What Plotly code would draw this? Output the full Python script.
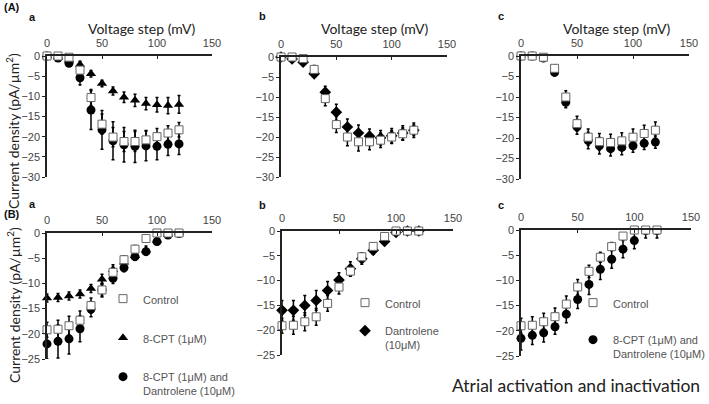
import plotly.graph_objects as go

W, H = 709, 404
volt = [0, 10, 20, 30, 40, 50, 60, 70, 80, 90, 100, 110, 120]

# ---- (A) activation ----
Aa_ctrl = [0, 0, -0.3, -3.5, -10.3, -16.9, -20.1, -21.2, -21.2, -20.8, -20.0, -19.1, -18.3]
Aa_ctrl_err = [0, 0.3, 0.5, 1.0, 2.0, 2.5, 2.4, 2.5, 2.5, 2.3, 2.0, 1.8, 1.8]
Aa_cpt = [0, -0.3, -1.0, -2.1, -4.4, -6.8, -8.7, -10.2, -11.0, -11.8, -12.1, -12.3, -12.0]
Aa_cpt_err = [0, 0.3, 0.7, 0.8, 0.8, 0.8, 1.0, 1.3, 1.5, 1.5, 1.8, 2.0, 2.2]
Aa_both = [0, -0.5, -1.8, -5.4, -13.4, -18.3, -21.0, -22.0, -22.4, -22.3, -22.4, -21.9, -21.8]
Aa_both_err = [0, 0.5, 0.7, 1.8, 4.8, 4.8, 4.7, 4.3, 4.0, 3.7, 3.3, 2.8, 2.6]

Ab_ctrl = [0, 0, -0.4, -3.1, -10.4, -16.9, -20.0, -21.2, -21.2, -20.8, -20.0, -19.2, -18.3]
Ab_ctrl_err = [0, 0.2, 0.4, 1.0, 1.8, 2.0, 2.2, 2.3, 2.0, 1.8, 1.6, 1.5, 1.3]
Ab_dan = [0, -0.5, -1.3, -4.2, -8.8, -13.8, -17.5, -19.0, -19.8, -20.2, -19.7, -19.0, -18.3]
Ab_dan_err = [0, 0.3, 0.5, 0.7, 1.5, 2.0, 2.0, 2.0, 1.8, 1.8, 1.8, 1.8, 1.8]

Ac_ctrl = [0, 0, -0.3, -3.0, -10.0, -16.5, -19.8, -20.9, -21.1, -20.7, -19.8, -18.9, -18.1]
Ac_ctrl_err = [0, 0.2, 0.4, 0.8, 1.5, 1.8, 2.0, 2.0, 2.0, 2.0, 2.0, 2.0, 2.0]
Ac_both = [0, 0, -0.5, -4.0, -11.3, -17.3, -20.6, -21.9, -22.6, -22.3, -21.9, -21.3, -21.0]
Ac_both_err = [0, 0.2, 0.4, 0.8, 1.3, 1.8, 2.0, 2.0, 1.8, 1.8, 1.6, 1.5, 1.5]

# ---- (B) inactivation ----
Ba_ctrl = [-19.2, -19.1, -18.4, -17.3, -14.4, -11.3, -7.8, -5.3, -3.2, -1.1, 0, 0, 0]
Ba_ctrl_err = [1.5, 1.8, 1.9, 1.8, 1.5, 1.2, 1.0, 0.8, 0.7, 0.5, 0.3, 0, 0]
Ba_cpt = [-12.9, -12.8, -12.5, -12.1, -11.0, -9.2, -7.3, -5.8, -4.5, -3.4, -1.5, -0.3, 0]
Ba_cpt_err = [0.8, 0.8, 0.8, 0.8, 0.8, 1.0, 1.0, 0.9, 0.8, 0.8, 0.8, 0.4, 0.2]
Ba_both = [-22.0, -21.5, -21.0, -19.0, -15.1, -11.3, -9.0, -6.9, -4.7, -3.7, -1.7, -0.4, -0.1]
Ba_both_err = [3.0, 3.3, 3.0, 2.6, 1.5, 1.4, 1.0, 0.8, 0.7, 0.6, 0.5, 0.3, 0.2]

Bb_ctrl = [-19.1, -19.0, -18.3, -17.3, -14.6, -11.3, -8.1, -5.2, -3.1, -1.1, 0, 0, 0]
Bb_ctrl_err = [1.5, 1.8, 1.8, 1.7, 1.6, 1.4, 1.0, 0.8, 0.6, 0.5, 0.2, 0, 0]
Bb_dan = [-16.0, -16.0, -15.0, -14.0, -12.0, -9.9, -7.6, -5.6, -3.9, -2.1, -0.3, 0, 0]
Bb_dan_err = [2.0, 2.0, 2.0, 2.0, 1.8, 1.5, 1.4, 1.1, 0.8, 0.5, 0.3, 0, 0]

Bc_ctrl = [-19.0, -18.9, -18.2, -17.2, -14.7, -11.3, -8.2, -5.4, -3.3, -1.2, 0, 0, 0]
Bc_ctrl_err = [1.5, 1.7, 1.7, 1.7, 1.6, 1.5, 1.2, 1.0, 0.8, 0.6, 0.3, 0, 0]
Bc_both = [-21.5, -20.9, -20.4, -19.2, -16.7, -13.8, -10.8, -7.8, -5.8, -3.8, -2.1, -0.1, -0.1]
Bc_both_err = [2.3, 1.8, 1.8, 1.5, 1.7, 1.8, 2.0, 2.0, 1.8, 1.7, 1.6, 1.5, 1.5]

x_ticks = [0, 50, 100, 150]
yA_ticks = [0, -5, -10, -15, -20, -25, -30]
yB_ticks = [0, -5, -10, -15, -20, -25]

name_ctrl = "Control"
name_cpt = "8-CPT (1μM)"
name_both = "8-CPT (1μM) and<br>Dantrolene (10μM)"
name_dan = "Dantrolene<br>(10μM)"

fig = go.Figure()

STY = {
    "ctrl": dict(symbol="square", size=8, color="white", line=dict(color="#666", width=1)),
    "cpt": dict(symbol="triangle-up", size=9, color="black", line=dict(width=0)),
    "both": dict(symbol="circle", size=9, color="black", line=dict(width=0)),
    "dan": dict(symbol="diamond", size=9, color="black", line=dict(width=0)),
}


def add(y, err, kind, name, ax, legend=None, rank=1):
    idx = "" if ax == 1 else str(ax)
    fig.add_trace(go.Scatter(
        x=volt, y=y, mode="markers", name=name,
        marker=STY[kind],
        error_y=dict(type="data", array=err, visible=True, color="black",
                     thickness=1.5, width=1.5),
        xaxis="x" + idx, yaxis="y" + idx,
        cliponaxis=False,
        showlegend=legend is not None,
        legend=legend if legend else "legend",
        legendgroup=kind + idx, legendrank=rank,
    ))


# panel order: 1 Aa, 2 Ab, 3 Ac, 4 Ba, 5 Bb, 6 Bc
add(Aa_both, Aa_both_err, "both", name_both, 1)
add(Aa_cpt, Aa_cpt_err, "cpt", name_cpt, 1)
add(Aa_ctrl, Aa_ctrl_err, "ctrl", name_ctrl, 1)
add(Ab_dan, Ab_dan_err, "dan", name_dan, 2)
add(Ab_ctrl, Ab_ctrl_err, "ctrl", name_ctrl, 2)
add(Ac_both, Ac_both_err, "both", name_both, 3)
add(Ac_ctrl, Ac_ctrl_err, "ctrl", name_ctrl, 3)
add(Ba_both, Ba_both_err, "both", name_both, 4, "legend", 3)
add(Ba_cpt, Ba_cpt_err, "cpt", name_cpt, 4, "legend", 2)
add(Ba_ctrl, Ba_ctrl_err, "ctrl", name_ctrl, 4, "legend", 1)
add(Bb_dan, Bb_dan_err, "dan", name_dan, 5, "legend2", 2)
add(Bb_ctrl, Bb_ctrl_err, "ctrl", name_ctrl, 5, "legend2", 1)
add(Bc_both, Bc_both_err, "both", name_both, 6, "legend3", 2)
add(Bc_ctrl, Bc_ctrl_err, "ctrl", name_ctrl, 6, "legend3", 1)

# pixel boxes for each panel: (x0px at 0, x1px at 150, ytop px at 0, ybottom px at min)
boxes = {
    1: (47, 212, 56, 177, -30, yA_ticks),
    2: (281, 447, 57, 177, -30, yA_ticks),
    3: (521, 689, 56, 179, -30, yA_ticks),
    4: (47, 212, 233, 359, -25, yB_ticks),
    5: (282, 453, 231, 355, -25, yB_ticks),
    6: (521, 691, 230, 356, -25, yB_ticks),
}
tickfont = dict(family="Liberation Sans, Arial", size=11, color="#444")
for i, (x0, x1, yt, yb, ymin, yt_vals) in boxes.items():
    idx = "" if i == 1 else str(i)
    fig.layout["xaxis" + idx] = dict(
        domain=[x0 / W, x1 / W], range=[0, 150], anchor="y" + idx, side="top",
        tickvals=x_ticks, showline=True, linecolor="#222", linewidth=1.5,
        ticks="inside", ticklen=3, tickcolor="#222", showgrid=False, zeroline=False,
        tickfont=tickfont, fixedrange=True, automargin=False, ticklabelstandoff=3,
    )
    fig.layout["yaxis" + idx] = dict(
        domain=[(H - yb) / H, (H - yt) / H], range=[ymin, 0], anchor="x" + idx,
        tickvals=yt_vals, showline=True, linecolor="#222", linewidth=1.5,
        ticks="outside", ticklen=3, tickcolor="#222", showgrid=False, zeroline=False,
        tickfont=tickfont, fixedrange=True, automargin=False,
    )

legfont = dict(family="Liberation Sans, Arial", size=11, color="#555")
leg_common = dict(font=legfont, bgcolor="rgba(0,0,0,0)", itemwidth=30, valign="top",
                  xanchor="left", yanchor="top", traceorder="grouped")
fig.update_layout(
    legend=dict(x=103 / W, y=(H - 285) / H, tracegroupgap=20, **leg_common),
    legend2=dict(x=345 / W, y=(H - 289) / H, tracegroupgap=9, **leg_common),
    legend3=dict(x=573 / W, y=(H - 289) / H, tracegroupgap=18, **leg_common),
)

title_font = dict(family="Lato, Open Sans", size=14, color="#222")
ann = []
for xc in (141, 375, 616):
    ann.append(dict(text="Voltage step (mV)", x=xc / W, y=(H - 29) / H, xref="paper", yref="paper",
                    showarrow=False, font=title_font, xanchor="center", yanchor="middle"))
for yc in (131, 305):
    ann.append(dict(text="Current density (pA/µm<sup>2</sup>)", x=13 / W, y=(H - yc) / H,
                    xref="paper", yref="paper", showarrow=False, textangle=-90,
                    font=title_font, xanchor="center", yanchor="middle"))
bold = dict(family="Liberation Sans, Arial", size=11, color="#111")
labels = [("(A)", 2, 7), ("a", 27, 17), ("b", 257, 16), ("c", 496, 16),
          ("(B)", 2, 214), ("a", 27, 204), ("b", 257, 205), ("c", 496, 205)]
for t, x, y in labels:
    ann.append(dict(text="<b>%s</b>" % t, x=x / W, y=(H - y) / H, xref="paper", yref="paper",
                    showarrow=False, font=bold, xanchor="left", yanchor="middle"))
ann.append(dict(text="Atrial activation and inactivation", x=702 / W, y=(H - 385) / H,
                xref="paper", yref="paper", showarrow=False,
                font=dict(family="Lato, Open Sans", size=17.5, color="#222"),
                xanchor="right", yanchor="middle"))

fig.update_layout(
    width=W, height=H, margin=dict(l=0, r=0, t=0, b=0, autoexpand=False),
    paper_bgcolor="white", plot_bgcolor="white",
    annotations=ann,
)

fig.write_html("out.html", config={"displayModeBar": False},
               post_script="document.body.style.margin='0';document.body.style.overflow='hidden';")
